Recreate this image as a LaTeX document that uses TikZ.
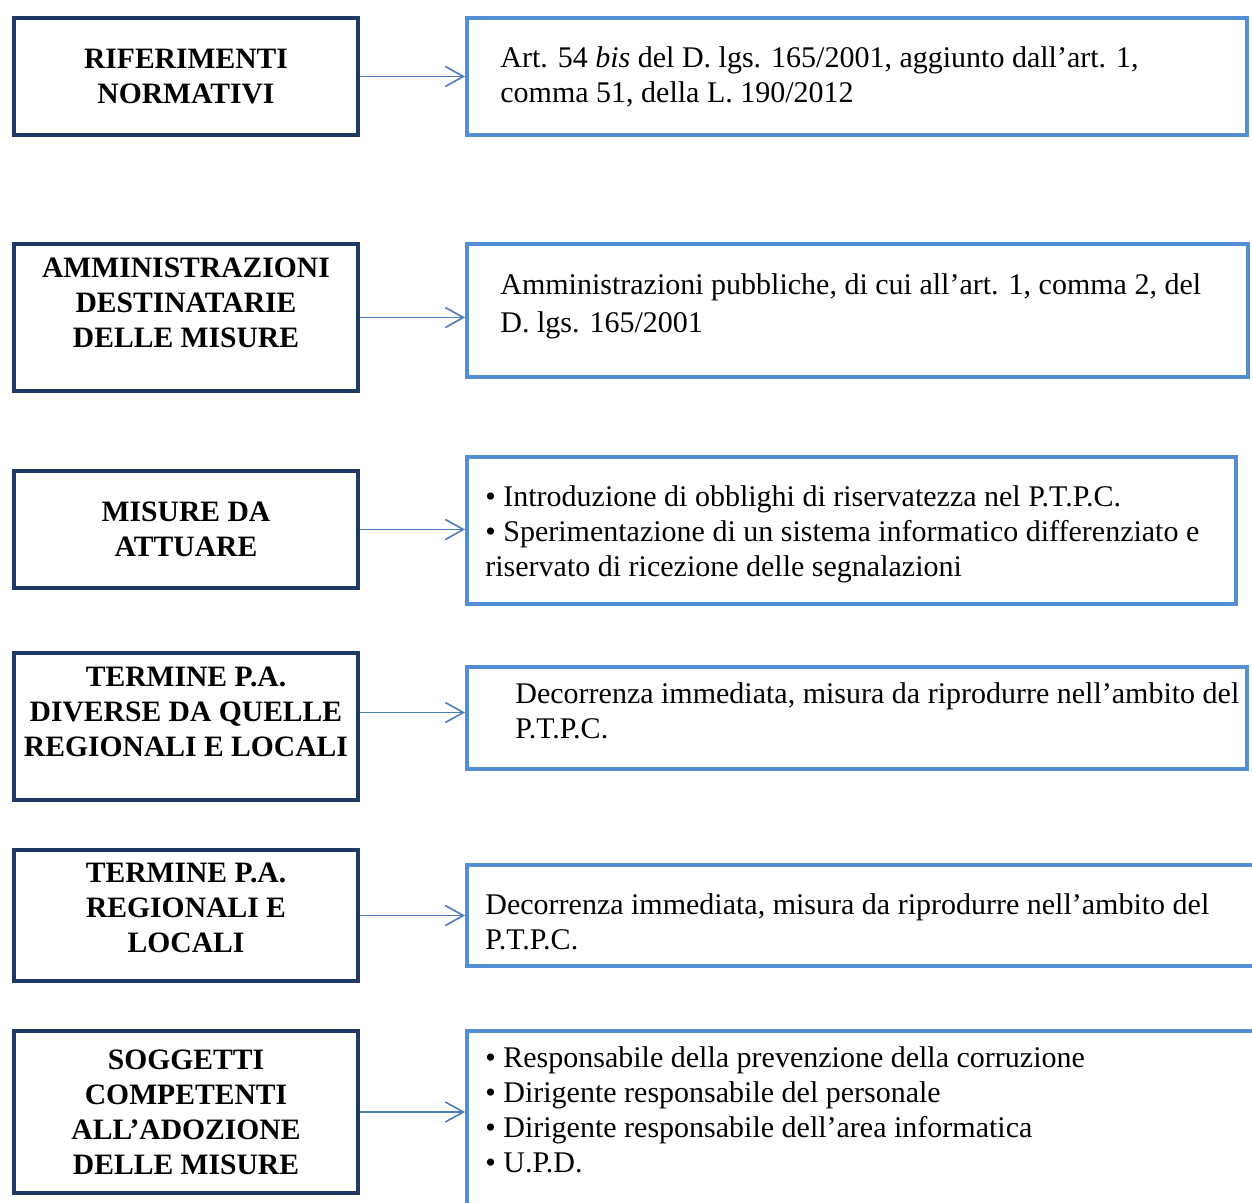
\documentclass[tikz,border=0pt]{standalone}
\usepackage{fontspec}
\setmainfont{Liberation Serif}
\usepackage{tikz}
\usetikzlibrary{positioning,arrows.meta}
\definecolor{c_left}{RGB}{31,56,100}
\definecolor{c_right}{RGB}{85,142,213}
\definecolor{c_arrow}{RGB}{74,126,187}
\tikzset{l-box/.style={rectangle, draw=c_left, line width=2pt, anchor=north west, minimum width=172pt, align=center, font=\fontsize{14.8}{17.5}\selectfont\bfseries},
r-box/.style={rectangle, draw=c_right, line width=2pt, anchor=north west},
r-text/.style={inner sep=0pt, align=left, anchor=west, font=\fontsize{15}{17.5}\selectfont},
arrow/.style={draw=c_arrow, line width=0.8pt, -{Straight Barb[length=9pt,width=10pt]}}}

\begin{document}
\begin{tikzpicture}[x=0.5pt, y=-0.5pt]
\clip (0,0) rectangle (1252,1203);
% left column
\node (l1) [l-box, minimum height=58.5pt] at (12,16) {RIFERIMENTI\\NORMATIVI};
\node (l2) [l-box, minimum height=73.5pt, text depth=15pt] at (12,242) {AMMINISTRAZIONI\\DESTINATARIE\\DELLE MISURE};
\node (l3) [l-box, minimum height=58.5pt] at (12,469) {MISURE DA\\ATTUARE};
\node (l4) [l-box, minimum height=73.5pt, text depth=15pt] at (12,651) {TERMINE P.A.\\DIVERSE DA QUELLE\\REGIONALI E LOCALI};
\node (l5) [l-box, minimum height=65.5pt, text depth=8pt] at (12,848) {TERMINE P.A.\\REGIONALI E\\LOCALI};
\node (l6) [l-box, minimum height=81pt] at (12,1029) {SOGGETTI\\COMPETENTI\\ALL’ADOZIONE\\DELLE MISURE};
% right column
\node (r1) [r-box, minimum width=390pt, minimum height=58.5pt] at (465,16) {};
\node (r2) [r-box, minimum width=390.5pt, minimum height=66.5pt] at (465,242) {};
\node (r3) [r-box, minimum width=384.5pt, minimum height=73.5pt] at (465,455) {};
\node (r4) [r-box, minimum width=390pt, minimum height=51pt] at (465,665) {};
\node (r5) [r-box, minimum width=420pt, minimum height=50.5pt] at (465,863) {};
\node (r6) [r-box, minimum width=420pt, minimum height=250pt] at (465,1029) {};
\node (t1) [r-text, right=17.5pt of r1.west] {Art. 54 \textit{bis} del D. lgs. 165/2001, aggiunto dall’art. 1,\\comma 51, della L. 190/2012};
\node (t2) [r-text, right=17.5pt of r2.west, yshift=2pt, font=\fontsize{15}{19}\selectfont] {Amministrazioni pubbliche, di cui all’art. 1, comma 2, del\\D. lgs. 165/2001};
\node (t3) [r-text, right=10pt of r3.west, yshift=-2pt] {\textbullet\ Introduzione di obblighi di riservatezza nel P.T.P.C.\\\textbullet\ Sperimentazione di un sistema informatico differenziato e\\riservato di ricezione delle segnalazioni};
\node (t4) [r-text, right=25pt of r4.west, yshift=3.5pt] {Decorrenza immediata, misura da riprodurre nell’ambito del\\P.T.P.C.};
\node (t5) [r-text, right=10pt of r5.west, yshift=-3pt] {Decorrenza immediata, misura da riprodurre nell’ambito del\\P.T.P.C.};
\node (t6) [r-text, right=10pt of r6.north west, yshift=-40.5pt] {\textbullet\ Responsabile della prevenzione della corruzione\\\textbullet\ Dirigente responsabile del personale\\\textbullet\ Dirigente responsabile dell’area informatica\\\textbullet\ U.P.D.};
% connectors
\coordinate (a4) at ([yshift=7pt]l4.east);
\draw [arrow] (l1.east) -- (l1.east -| r1.west);
\draw [arrow] (l2.east) -- (l2.east -| r2.west);
\draw [arrow] (l3.east) -- (l3.east -| r3.west);
\draw [arrow] (a4) -- (a4 -| r4.west);
\draw [arrow] (l5.east) -- (l5.east -| r5.west);
\draw [arrow] (l6.east) -- (l6.east -| r6.west);
\end{tikzpicture}
\end{document}
